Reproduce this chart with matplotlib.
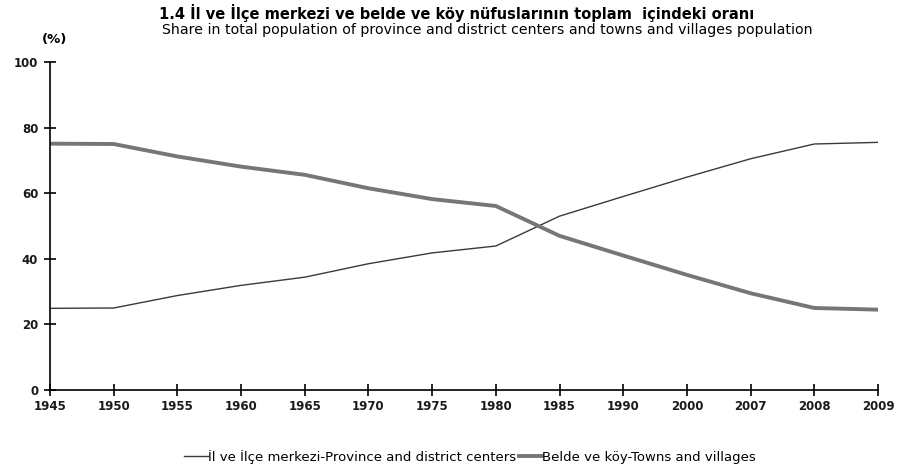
import matplotlib
matplotlib.use("Agg")
import matplotlib.pyplot as plt

years = ["1945", "1950", "1955", "1960", "1965", "1970", "1975", "1980",
         "1985", "1990", "2000", "2007", "2008", "2009"]
province = [24.9, 25.0, 28.8, 31.9, 34.4, 38.5, 41.8, 43.9, 53.0, 59.0, 64.9, 70.5, 75.0, 75.5]
towns = [75.1, 75.0, 71.2, 68.1, 65.6, 61.5, 58.2, 56.1, 47.0, 41.0, 35.1, 29.5, 25.0, 24.5]
yticks = [0, 20, 40, 60, 80, 100]

plt.rcParams['font.family'] = ['DejaVu Sans']
fig = plt.figure(figsize=(8.97, 4.67), dpi=100)
ax = fig.add_axes([50/897, 1-390/467, 828/897, 328/467])
x = list(range(len(years)))
ax.plot(x, province, color='#3a3a3a', lw=1.0, label='İl ve İlçe merkezi-Province and district centers')
ax.plot(x, towns, color='#767676', lw=2.8, label='Belde ve köy-Towns and villages')
ax.set_xlim(0, len(years)-1)
ax.set_ylim(0, 100)
ax.set_xticks(x)
ax.set_xticklabels(years, fontweight='bold')
ax.set_yticks(yticks)
ax.set_yticklabels([str(v) for v in yticks], fontweight='bold')
for s in ['top', 'right']:
    ax.spines[s].set_visible(False)
for s in ['left', 'bottom']:
    ax.spines[s].set_linewidth(1.2)
ax.tick_params(axis='both', direction='inout', length=9, width=1.2, labelsize=8.5, labelcolor='#1a1a1a')
ax.tick_params(axis='x', pad=3)
ax.tick_params(axis='y', pad=4)
fig.text(457/897, 1-13/467, '1.4 İl ve İlçe merkezi ve belde ve köy nüfuslarının toplam  içindeki oranı',
         ha='center', va='center', fontsize=10.5, fontweight='bold')
fig.text(487/897, 1-30/467, 'Share in total population of province and district centers and towns and villages population',
         ha='center', va='center', fontsize=10.2)
fig.text(55/897, 1-39/467, '(%)', ha='center', va='center', fontsize=9.5, fontweight='bold')
fig.legend(loc='center', bbox_to_anchor=(470/897, 1-457/467), ncol=2, frameon=False,
           fontsize=9.5, handlelength=1.8, handletextpad=0.0, columnspacing=0.2)
fig.savefig('out.png', dpi=100)
